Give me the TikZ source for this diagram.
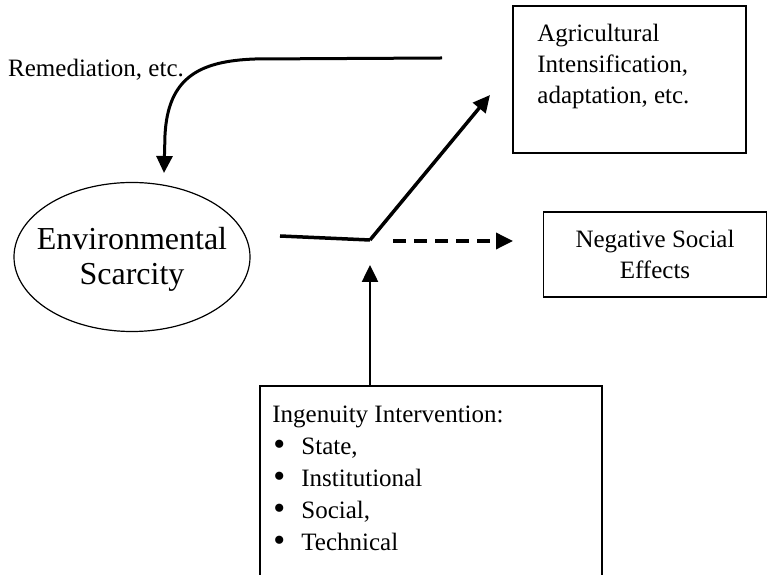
\documentclass[tikz,border=0pt]{standalone}
\usepackage{fontspec}
\setmainfont{Liberation Serif}
\usetikzlibrary{arrows.meta,shapes.geometric,positioning}
\tikzset{
  framed box/.style={draw, line width=1.6pt, inner sep=0pt},
  label text/.style={font=\fontsize{25}{31}\selectfont, inner sep=0pt},
  flow/.style={line width=3.5pt, -{Triangle[length=17pt,width=16pt]}},
}
\newcommand{\bulletitem}{\makebox[29pt][l]{\hspace{1pt}\raisebox{-1pt}{\fontsize{34}{32}\selectfont\textbullet}}}

\begin{document}
\begin{tikzpicture}[x=1pt,y=1pt]
  \useasboundingbox (0,0) rectangle (768,575);
  % boxes and the cloud
  \node[framed box, minimum width=233pt, minimum height=147pt] (agribox) at (629.5,495.5) {};
  \node[label text, align=left, anchor=north west] (agri) at ([shift={(25pt,-19pt)}]agribox.north west) {Agricultural\\Intensification,\\adaptation, etc.};
  \node[label text, anchor=west] (remed) at (8,505) {Remediation, etc.};
  \node[ellipse, draw, line width=1.2pt, inner sep=0pt, minimum width=236pt, minimum height=149pt] (env) at (132,318) {};
  \node[align=center, inner sep=0pt, font=\fontsize{32}{35}\selectfont] (envtext) at ([yshift=-2pt]env.center) {Environmental\\Scarcity};
  \node[framed box, label text, minimum width=223pt, minimum height=85pt, align=center] (neg) at (655,320.5) {Negative Social\\Effects};
  \node[framed box, minimum width=342pt, minimum height=200pt, anchor=north] (ingbox) at (431,190) {};
  \node[label text, font=\fontsize{25}{32}\selectfont, align=left, anchor=north west] (ing) at ([shift={(13pt,-21pt)}]ingbox.north west) {Ingenuity Intervention:\\
    \bulletitem State,\\
    \bulletitem Institutional\\
    \bulletitem Social,\\
    \bulletitem Technical};
  % connectors
  \coordinate (remstart) at (442,517);
  \coordinate (remend) at (164,402);
  \coordinate (linestart) at (280,339);
  \coordinate (kink) at (370,335);
  \coordinate (agritip) at (490,480);
  \coordinate (dashstart) at (393,334);
  \coordinate (dashtip) at (513,334);
  \draw[flow, line width=3pt] (remstart) -- (255,516) .. controls (200,514) and (168,498) .. (165,440) -- (remend);
  \draw[line width=3.5pt] (linestart) -- (kink);
  \draw[flow] (kink) -- (agritip);
  \draw[flow, dash pattern=on 13pt off 8pt] (dashstart) -- (dashtip);
  \draw[flow, line width=2.5pt] (ingbox.north -| kink) -- ([yshift=-25pt]kink);
\end{tikzpicture}
\end{document}
